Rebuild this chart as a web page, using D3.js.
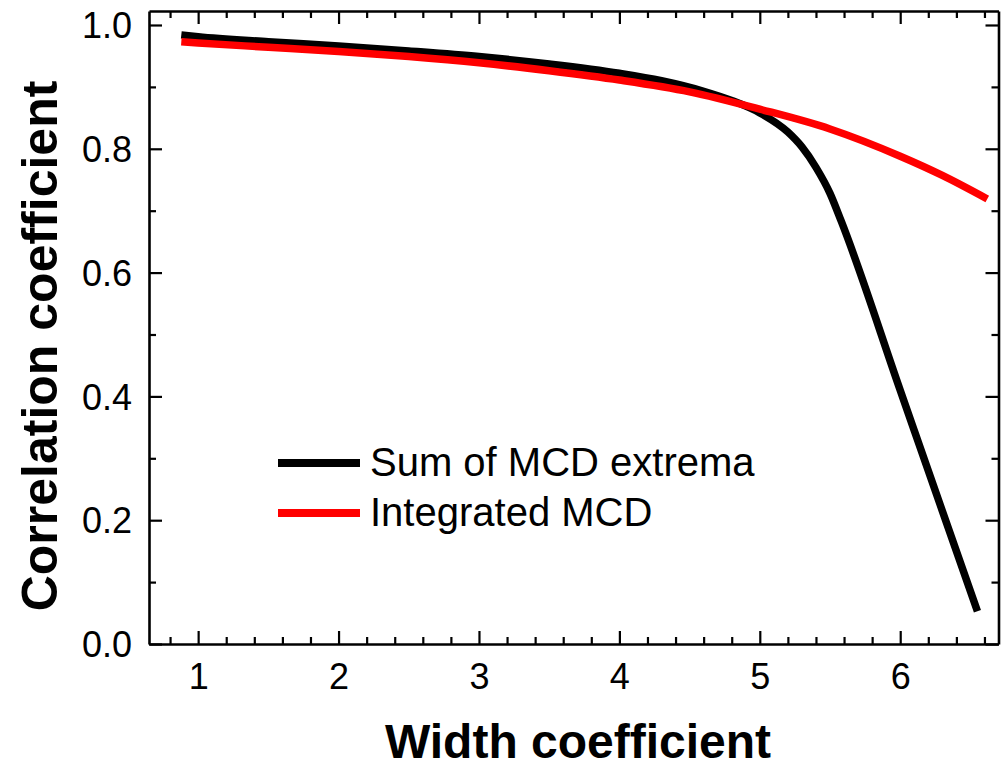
<!DOCTYPE html>
<html>
<head>
<meta charset="utf-8">
<script src="https://cdn.jsdelivr.net/npm/d3@7"></script>
<style>
  html, body { margin: 0; padding: 0; background: #fff; }
  svg { display: block; }
  text { font-family: "Liberation Sans", Arial, sans-serif; fill: #000; }
</style>
</head>
<body>
<svg id="chart" width="1005" height="769"></svg>
<script>
// ---- data ----
const sumX = [0.88, 1.0, 1.5, 2.0, 2.5, 3.0, 3.5, 4.0, 4.3, 4.6, 4.8, 5.0, 5.2, 5.3, 5.4, 5.5, 5.58, 6.0, 6.3, 6.55];
const sumY = [0.984, 0.981, 0.973, 0.966, 0.958, 0.949, 0.937, 0.922, 0.910, 0.893, 0.878, 0.858, 0.827, 0.803, 0.770, 0.728, 0.683, 0.410, 0.215, 0.053];
const intX = [0.88, 1.0, 1.5, 2.0, 2.5, 3.0, 3.5, 4.0, 4.5, 5.0, 5.5, 6.0, 6.3, 6.62];
const intY = [0.973, 0.971, 0.964, 0.957, 0.949, 0.939, 0.926, 0.911, 0.892, 0.864, 0.832, 0.788, 0.757, 0.719];
const seriesNames = ["Sum of MCD extrema", "Integrated MCD"];
const seriesColors = ["#000000", "#ff0000"];
const xTicks = [1, 2, 3, 4, 5, 6];
const yTicks = [0.0, 0.2, 0.4, 0.6, 0.8, 1.0];
const xTitle = "Width coefficient";
const yTitle = "Correlation coefficient";

// ---- layout ----
const L = 149, R = 998.5, T = 11, B = 644;
const svg = d3.select("#chart");
const x = d3.scaleLinear().domain([0.65, 6.70]).range([L, R]);
const y = d3.scaleLinear().domain([0, 1.0226]).range([B, T]);

const xMinor = d3.range(0.8, 6.7, 0.2).map(v => +v.toFixed(2)).filter(v => Math.abs(v - Math.round(v)) > 1e-6);
const yMinor = d3.range(0.1, 1.01, 0.2).map(v => +v.toFixed(2));

function styleAxis(g) {
  g.select(".domain").attr("stroke", "#000").attr("stroke-width", 2.6);
  g.selectAll(".tick line").attr("stroke", "#000").attr("stroke-width", 2.2);
}

// bottom
const gb = svg.append("g").attr("transform", `translate(0,${B})`)
  .call(d3.axisBottom(x).tickValues(xTicks).tickSize(-13).tickSizeOuter(0).tickFormat(d3.format("d")));
styleAxis(gb);
gb.selectAll(".tick text").attr("font-size", 36).attr("y", 45).attr("dy", 0)
  .style("font-family", "Liberation Sans, Arial, sans-serif");
const gbm = svg.append("g").attr("transform", `translate(0,${B})`)
  .call(d3.axisBottom(x).tickValues(xMinor).tickSize(-7).tickFormat(""));
styleAxis(gbm); gbm.select(".domain").remove();

// top
const gt = svg.append("g").attr("transform", `translate(0,${T})`)
  .call(d3.axisTop(x).tickValues(xTicks).tickSize(-13).tickSizeOuter(0).tickFormat(""));
styleAxis(gt);
const gtm = svg.append("g").attr("transform", `translate(0,${T})`)
  .call(d3.axisTop(x).tickValues(xMinor).tickSize(-7).tickFormat(""));
styleAxis(gtm); gtm.select(".domain").remove();

// left
const gl = svg.append("g").attr("transform", `translate(${L},0)`)
  .call(d3.axisLeft(y).tickValues(yTicks).tickSize(-13).tickSizeOuter(0).tickFormat(d3.format(".1f")));
styleAxis(gl);
gl.selectAll(".tick text").attr("font-size", 36).attr("x", -17).attr("dy", "0.35em")
  .style("font-family", "Liberation Sans, Arial, sans-serif");
const glm = svg.append("g").attr("transform", `translate(${L},0)`)
  .call(d3.axisLeft(y).tickValues(yMinor).tickSize(-7).tickFormat(""));
styleAxis(glm); glm.select(".domain").remove();

// right
const gr = svg.append("g").attr("transform", `translate(${R},0)`)
  .call(d3.axisRight(y).tickValues(yTicks).tickSize(-13).tickSizeOuter(0).tickFormat(""));
styleAxis(gr);
const grm = svg.append("g").attr("transform", `translate(${R},0)`)
  .call(d3.axisRight(y).tickValues(yMinor).tickSize(-7).tickFormat(""));
styleAxis(grm); grm.select(".domain").remove();

// lines
const line = d3.line().x(d => x(d[0])).y(d => y(d[1])).curve(d3.curveMonotoneX);
const sumData = sumX.map((v, i) => [v, sumY[i]]);
const intData = intX.map((v, i) => [v, intY[i]]);
svg.append("path").datum(sumData).attr("d", line)
  .attr("fill", "none").attr("stroke", seriesColors[0]).attr("stroke-width", 7.5);
svg.append("path").datum(intData).attr("d", line)
  .attr("fill", "none").attr("stroke", seriesColors[1]).attr("stroke-width", 7.5);

// legend
const legY = [463, 513];
seriesNames.forEach((name, i) => {
  svg.append("line").attr("x1", 278).attr("x2", 360).attr("y1", legY[i]).attr("y2", legY[i])
    .attr("stroke", seriesColors[i]).attr("stroke-width", 8);
  svg.append("text").attr("x", 370).attr("y", legY[i] + 13).attr("font-size", 40).text(name);
});

// titles
svg.append("text").attr("x", 578).attr("y", 758).attr("text-anchor", "middle")
  .attr("font-size", 48).attr("font-weight", "bold").text(xTitle);
svg.append("text").attr("transform", "translate(57,346) rotate(-90)").attr("text-anchor", "middle")
  .attr("font-size", 50).attr("font-weight", "bold").text(yTitle);
</script>
</body>
</html>
